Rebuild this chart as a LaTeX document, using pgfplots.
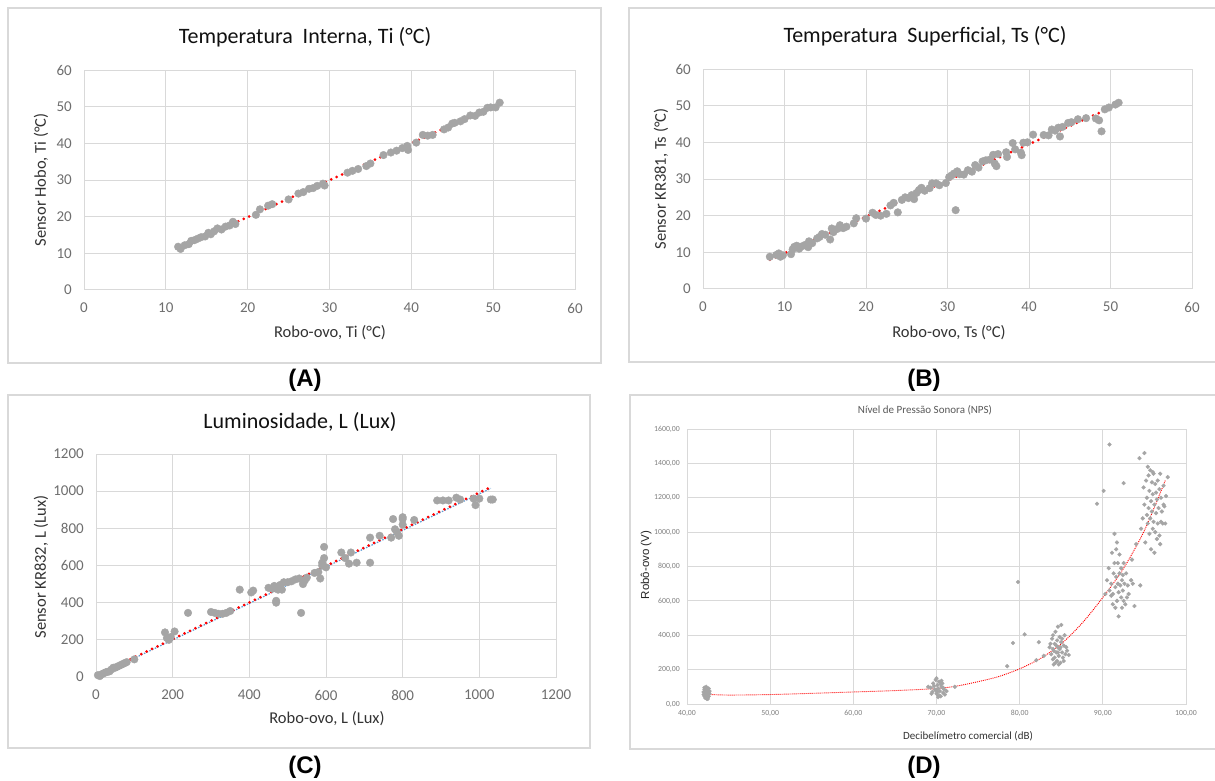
\documentclass[border=0pt]{standalone}
\usepackage{fontspec}
\setmainfont{Carlito}
\newfontfamily\arialfont{Liberation Sans}
\usepackage{pgfplots}
\pgfplotsset{compat=1.18}
\definecolor{gridc}{HTML}{D9D9D9}
\definecolor{framec}{HTML}{D9D9D9}
\definecolor{markc}{HTML}{A5A5A5}
\definecolor{tickc}{HTML}{6E6E6E}
\definecolor{labelc}{HTML}{333333}
\definecolor{titlec}{HTML}{111111}
\definecolor{trendred}{HTML}{FF0000}
\definecolor{trendblue}{HTML}{5B9BD5}

\pgfplotsset{
  panel/.style={
    scale only axis, anchor=south west,
    axis line style={draw=gridc, line width=1pt},
    grid=major, grid style={draw=gridc, line width=1pt},
    major tick length=0pt, tick style={draw=none},
    /pgf/number format/assume math mode=true,
    /pgf/number format/1000 sep={},
    ticklabel style={font=\fontsize{15}{18}\selectfont, text=tickc, inner sep=0pt},
    clip=false,
  },
  bigticks/.style={xticklabel style={yshift=-13pt}, yticklabel style={xshift=-12pt}},
  dots/.style={only marks, mark=*, mark size=3.8pt, color=markc, mark options={draw=markc, fill=markc}},
  trend/.style={draw=trendred, line width=3pt, line cap=round, dash pattern=on 0pt off 6pt, mark=none},
}

\begin{document}
\begin{tikzpicture}
\useasboundingbox (0pt,0pt) rectangle (1215pt,780pt);
\fill[white] (0pt,0pt) rectangle (1215pt,780pt);

% panel frames (y counted from the bottom)
\draw[framec, line width=1.2pt] (8pt,772pt) rectangle (601pt,417pt);
\draw[framec, line width=1.2pt] (629pt,772pt) rectangle (1218pt,418pt);
\draw[framec, line width=1.2pt] (8pt,385pt) rectangle (590pt,32pt);
\draw[framec, line width=1.2pt] (630pt,385pt) rectangle (1218pt,31pt);

% (A) internal temperature
\begin{axis}[panel, bigticks, at={(84pt,490pt)}, width=491pt, height=220pt,
  xmin=0, xmax=60, ymin=0, ymax=60, xtick={0,10,...,60}, ytick={0,10,...,60}]
\addplot[dots] coordinates {
 (11.5,11.8) (11.8,11.2) (12.3,12.2) (12.8,12.5) (13.1,13.4) (13.5,13.6)
 (13.9,14.0) (14.3,14.4) (14.8,14.6) (15.2,15.6) (15.5,15.2) (15.9,16.0)
 (16.3,16.8) (16.8,16.5) (17.3,17.3) (17.8,17.6) (18.2,18.6) (18.5,18.0)
 (21.0,20.5) (21.5,22.0) (22.5,23.0) (23.0,23.4) (25.0,24.7) (26.2,26.3)
 (26.8,26.7) (27.5,27.6) (28.0,27.8) (28.5,28.4) (29.2,29.0) (29.4,28.5)
 (32.2,32.0) (32.8,32.5) (33.5,33.0) (34.5,33.8) (35.0,34.5) (36.6,36.8)
 (37.5,37.5) (38.2,38.0) (38.9,38.7) (39.5,39.3) (39.6,38.2) (40.6,40.2)
 (41.4,42.3) (42.0,42.1) (42.6,42.3) (44.0,43.8) (44.5,44.3) (45.0,45.4)
 (45.3,45.6) (46.0,46.0) (46.5,46.6) (47.2,47.6) (47.8,47.5) (48.3,48.4)
 (48.8,48.6) (49.3,49.7) (49.7,49.8) (50.3,49.8) (50.8,51.1)
};
\addplot[trend] coordinates {(11.5,11.3) (50.9,51.0)};
\end{axis}

% (B) surface temperature
\begin{axis}[panel, bigticks, at={(703pt,491pt)}, width=489pt, height=220pt,
  xmin=0, xmax=60, ymin=0, ymax=60, xtick={0,10,...,60}, ytick={0,10,...,60}]
\addplot[dots] coordinates {
 (8.2,8.8) (9.0,9.3) (9.3,9.7) (9.5,8.8) (9.8,9.2) (10.8,9.5) (11.0,10.8)
 (11.2,11.5) (11.5,11.8) (11.8,11.0) (12.1,11.6) (12.5,12.0) (12.9,11.4)
 (13.0,13.0) (13.4,12.5) (14.0,13.8) (14.3,14.2) (14.6,15.0) (15.0,14.8)
 (15.6,13.5) (15.8,16.5) (16.0,15.5) (16.5,16.4) (16.8,17.4) (17.2,16.6)
 (17.6,17.0) (18.5,17.9) (18.8,19.3) (20.0,19.2) (20.8,20.8) (21.2,20.2)
 (21.8,20.0) (22.5,20.5) (23.0,22.8) (23.4,23.5) (23.9,20.9) (24.4,24.3)
 (24.8,25.0) (25.2,24.8) (25.6,25.6) (25.9,24.5) (26.2,26.2) (26.5,27.0)
 (26.8,27.6) (27.2,26.8) (27.8,27.5) (28.1,28.8) (28.6,28.8) (29.0,28.3)
 (29.8,28.9) (30.2,30.5) (30.5,31.0) (30.8,31.5) (31.0,21.5) (31.2,32.1)
 (31.5,31.3) (32.0,31.2) (32.5,32.4) (33.0,32.0) (33.4,33.8) (33.8,33.1)
 (34.3,34.8) (34.7,35.1) (35.2,35.3) (35.6,36.6) (35.8,34.2) (36.0,33.5)
 (36.2,36.8) (37.2,37.3) (37.3,36.0) (38.0,39.8) (38.3,38.1) (39.0,37.2)
 (39.1,36.5) (39.3,39.9) (39.8,40.0) (40.5,42.1) (41.8,42.0) (42.4,41.9)
 (42.8,43.5) (43.2,43.2) (43.6,44.0) (43.8,41.6) (44.1,44.2) (44.8,45.3)
 (45.2,45.5) (46.0,46.3) (47.0,46.6) (48.2,46.5) (48.6,46.0) (48.9,43.0)
 (49.3,49.0) (49.8,49.5) (50.6,50.3) (51.0,50.8)
};
\addplot[trend] coordinates {(8.2,8.0) (50.8,50.2)};
\end{axis}

% (C) luminosity
\begin{axis}[panel, bigticks, at={(96pt,103pt)}, width=460pt, height=223pt,
  xmin=0, xmax=1200, ymin=0, ymax=1200, xtick={0,200,...,1200}, ytick={0,200,...,1200}]
\addplot[dots] coordinates {
 (5,10) (10,5) (15,15) (20,20) (25,25) (30,28) (35,30) (40,40) (45,50) (50,50)
 (55,55) (60,60) (65,65) (70,70) (75,75) (80,80) (100,95) (180,240) (185,210)
 (190,200) (195,215) (205,245) (240,345) (300,350) (310,345) (320,340) (330,340)
 (340,345) (350,355) (375,470) (405,455) (410,465) (450,480) (460,475) (465,490)
 (470,410) (470,400) (475,470) (480,495) (485,470) (490,510) (500,510) (510,515)
 (520,525) (530,530) (535,345) (540,500) (545,520) (550,535) (570,560) (580,565)
 (585,530) (590,600) (590,615) (595,640) (595,700) (600,590) (640,670) (650,640)
 (660,610) (665,670) (680,615) (715,615) (715,750) (740,760) (770,750) (775,850)
 (780,795) (785,780) (790,760) (800,820) (800,850) (800,860) (830,845) (890,950)
 (905,950) (920,950) (940,965) (950,955) (985,960) (990,925) (1000,960)
 (1030,955) (1035,955)
};
\addplot[draw=trendblue, line width=1.2pt, dash pattern=on 1.5pt off 1.5pt] coordinates {(5,8) (1030,1015)};
\addplot[trend] coordinates {(5,12) (1030,1022)};
\end{axis}

% (D) sound pressure level
\begin{axis}[panel, at={(687pt,76pt)}, width=499pt, height=275pt,
  xmin=40, xmax=100, ymin=0, ymax=1600,
  xtick={40,50,...,100}, ytick={0,200,...,1600},
  xticklabels={{40,00},{50,00},{60,00},{70,00},{80,00},{90,00},{100,00}},
  yticklabels={{0,00},{200,00},{400,00},{600,00},{800,00},{1000,00},{1200,00},{1400,00},{1600,00}},
  ticklabel style={font=\fontsize{7.8}{9}\selectfont, text=black!50},
  xticklabel style={yshift=-6pt}, yticklabel style={xshift=-7pt},
  grid style={draw=gridc, line width=0.8pt}, axis line style={draw=gridc, line width=0.8pt}]
\addplot[only marks, mark=*, mark size=1.9pt, color=markc, mark options={draw=markc, fill=markc}] coordinates {
 (42.1,45) (42.2,60) (42.3,75) (42.4,90) (42.5,55) (42.2,35) (42.4,30) (42.6,70)
 (42.1,85) (42.3,100) (42.5,40) (42.2,50) (42.6,45) (42.4,65) (42.3,55) (42.0,70)
 (42.5,85) (42.7,60) (42.1,95) (42.3,40) (42.6,90) (42.4,50) (42.2,80) (42.0,55)
 (42.5,30) (42.3,85) (42.7,75) (42.1,65)
 (69.0,100) (69.3,95) (69.5,70) (69.6,120) (69.8,85) (69.9,140) (70.0,60) (70.1,110)
 (70.2,90) (70.3,130) (70.4,75) (70.5,45) (70.6,100) (70.7,120) (70.8,65) (70.9,85)
 (71.0,55) (70.0,150) (69.7,105) (70.2,40) (70.5,115) (70.8,95) (69.9,80) (70.3,50)
 (70.6,135) (70.1,70) (71.2,75) (72.2,100) (69.4,60)
 (78.5,220) (79.2,355) (79.8,710) (80.6,405) (82.0,255) (82.3,360) (82.9,280)
 (83.6,330) (83.8,290) (83.9,380) (84.0,260) (84.1,310) (84.2,350) (84.3,240) (84.3,420)
 (84.4,300) (84.5,370) (84.5,250) (84.6,330) (84.6,450) (84.7,280) (84.8,390) (84.8,320)
 (84.9,240) (85.0,360) (85.0,460) (85.1,300) (85.2,270) (85.3,340) (85.4,400) (85.5,290)
 (85.7,310) (85.9,285) (84.0,400) (84.2,270) (84.4,340) (84.7,230) (84.9,330) (85.1,380)
 (83.7,350) (84.1,230) (84.6,300) (85.6,330) (85.3,250) (84.0,320)
 (90.3,640) (90.5,720) (90.7,790) (90.8,660) (91.0,700) (91.1,880) (91.2,640) (91.3,760)
 (91.4,820) (91.5,680) (91.5,560) (91.6,740) (91.7,600) (91.7,940) (91.8,700) (91.8,820)
 (91.9,510) (91.9,650) (92.0,760) (92.0,870) (92.1,690) (92.2,620) (92.2,790) (92.3,560)
 (92.3,720) (92.4,660) (92.5,600) (92.5,820) (92.6,700) (92.7,580) (92.8,760) (93.0,690)
 (93.1,640) (93.4,720) (93.5,840) (93.6,700) (93.8,570) (94.5,690) (91.4,990) (91.6,900)
 (92.9,620) (91.2,580) (92.4,750) (91.0,630)
 (89.3,1165) (90.1,1240) (90.8,1510) (92.5,1285) (94.4,1430) (95.0,1460) (94.0,930)
 (94.6,1020) (94.8,1080) (94.9,1260) (95.0,1160) (95.1,940) (95.2,1300) (95.3,1100)
 (95.3,1200) (95.4,1050) (95.5,1140) (95.5,1330) (95.6,990) (95.6,1240) (95.7,1360)
 (95.7,1080) (95.8,1180) (95.8,900) (95.9,1120) (95.9,1290) (96.0,1020) (96.0,1220)
 (96.1,1340) (96.1,1060) (96.2,1160) (96.2,880) (96.3,1280) (96.3,1000) (96.4,1110)
 (96.4,1230) (96.5,960) (96.5,1190) (96.6,1300) (96.6,1050) (96.7,1140) (96.8,1250)
 (96.8,980) (96.9,1340) (97.0,1060) (97.0,1200) (97.1,1120) (97.2,1050) (97.3,1270)
 (97.4,1150) (97.5,1050) (97.6,1210) (97.8,1320) (97.3,1160) (96.9,930) (95.4,1380)
 (96.0,1350)
};
\addplot[draw=trendred, line width=0.9pt, dash pattern=on 1pt off 1pt, smooth] coordinates {
 (42,57) (45,52) (50,55) (55,62) (60,70) (65,78) (70,90) (72.5,105) (75,130)
 (77.5,160) (80,205) (82.5,265) (85,350) (87.5,470) (90,620) (92.5,790) (95,1010) (97.5,1300)
};
\end{axis}

% titles
\node[titlec, font=\fontsize{22}{26}\selectfont] at (305pt,743pt) {Temperatura\hspace{0.45em}Interna, Ti (°C)};
\node[titlec, font=\fontsize{22}{26}\selectfont] at (925pt,744pt) {Temperatura\hspace{0.45em}Superficial, Ts (°C)};
\node[titlec, font=\fontsize{22}{26}\selectfont] at (300pt,358pt) {Luminosidade, L (Lux)};
\node[black!65, font=\fontsize{11}{13}\selectfont] at (925pt,370pt) {Nível de Pressão Sonora (NPS)};

% axis labels
\node[labelc, font=\fontsize{16.5}{19}\selectfont] at (330pt,447pt) {Robo-ovo, Ti (°C)};
\node[labelc, font=\fontsize{16.5}{19}\selectfont, rotate=90] at (41pt,600pt) {Sensor Hobo, Ti (°C)};
\node[labelc, font=\fontsize{16.5}{19}\selectfont] at (949pt,447pt) {Robo-ovo, Ts (°C)};
\node[labelc, font=\fontsize{16.5}{19}\selectfont, rotate=90] at (661pt,601pt) {Sensor KR381, Ts (°C)};
\node[labelc, font=\fontsize{16.5}{19}\selectfont] at (327pt,61pt) {Robo-ovo, L (Lux)};
\node[labelc, font=\fontsize{16.5}{19}\selectfont, rotate=90] at (41pt,213pt) {Sensor KR832, L (Lux)};
\node[labelc, font=\fontsize{11}{13}\selectfont] at (968pt,44pt) {Decibelímetro comercial (dB)};
\node[black!85, font=\arialfont\fontsize{11.5}{14}\selectfont, rotate=90] at (646pt,215pt) {Robô-ovo (V)};

% panel letters
\node[black, font=\arialfont\bfseries\fontsize{24}{28}\selectfont] at (305pt,400pt) {(A)};
\node[black, font=\arialfont\bfseries\fontsize{24}{28}\selectfont] at (924pt,400pt) {(B)};
\node[black, font=\arialfont\bfseries\fontsize{24}{28}\selectfont] at (305pt,13pt) {(C)};
\node[black, font=\arialfont\bfseries\fontsize{24}{28}\selectfont] at (924pt,13pt) {(D)};
\end{tikzpicture}
\end{document}
